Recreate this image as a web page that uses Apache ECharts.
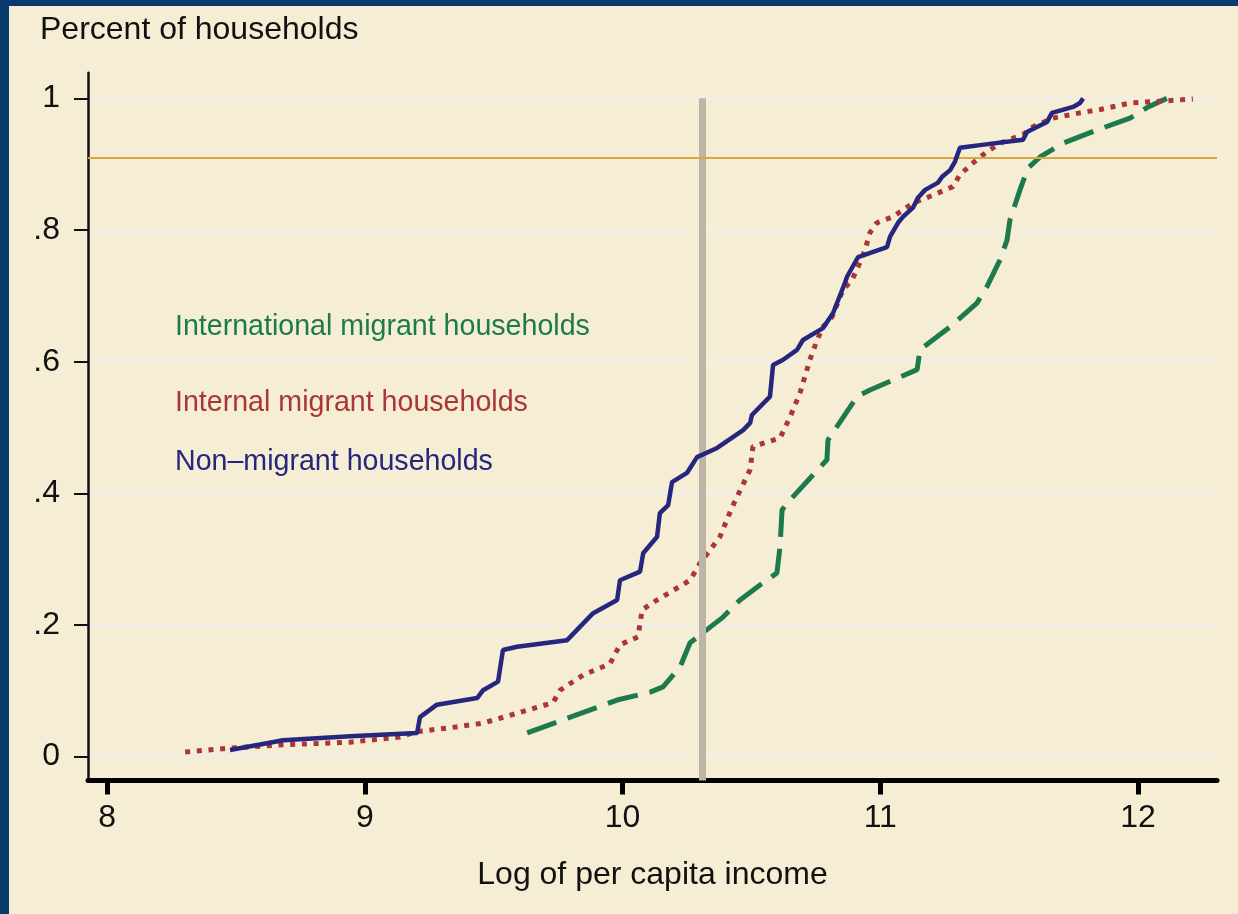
<!DOCTYPE html>
<html>
<head>
<meta charset="utf-8">
<script src="https://cdn.jsdelivr.net/npm/echarts@6/dist/echarts.min.js"></script>
<style>
  html, body { margin: 0; padding: 0; width: 1238px; height: 914px; background: #0b3a6f; overflow: hidden; }
  #chart { position: absolute; left: 9px; top: 6px; width: 1229px; height: 908px; background: #f5edd4; }
</style>
</head>
<body>
<div id="chart"></div>
<script>
// ---- Data ----
const xTicks = [8, 9, 10, 11, 12];
const xTickLabels = ['8', '9', '10', '11', '12'];
const yTicks = [0, 0.2, 0.4, 0.6, 0.8, 1];
const yTickLabels = ['0', '.2', '.4', '.6', '.8', '1'];
const xRange = [7.926, 12.3065];
const yRange = [-0.0362, 1.039];
const refIncome = 10.31;     // vertical grey reference line
const refShare = 0.911;      // horizontal gold reference line

const seriesNames = ['International migrant households', 'Internal migrant households', 'Non\u2013migrant households'];

const nonMigrant = [
  [8.477,0.010],[8.683,0.025],[8.943,0.031],[9.203,0.036],[9.214,0.060],[9.280,0.079],
  [9.436,0.089],[9.459,0.101],[9.517,0.114],[9.536,0.162],[9.591,0.167],[9.785,0.177],
  [9.886,0.218],[9.979,0.238],[9.990,0.268],[10.068,0.281],[10.080,0.309],[10.134,0.334],
  [10.145,0.370],[10.177,0.382],[10.192,0.417],[10.250,0.431],[10.289,0.455],[10.367,0.469],
  [10.468,0.496],[10.495,0.507],[10.502,0.519],[10.572,0.547],[10.584,0.595],[10.623,0.603],
  [10.677,0.618],[10.700,0.633],[10.778,0.651],[10.817,0.674],[10.863,0.720],[10.871,0.729],
  [10.914,0.759],[11.026,0.774],[11.038,0.790],[11.069,0.811],[11.088,0.820],[11.127,0.834],
  [11.146,0.849],[11.174,0.861],[11.224,0.872],[11.240,0.881],[11.271,0.891],[11.290,0.904],
  [11.309,0.925],[11.387,0.929],[11.554,0.937],[11.569,0.949],[11.647,0.964],[11.666,0.978],
  [11.748,0.987],[11.775,0.993],[11.787,1.000]
];

const internalMigrant = [
  [8.303,0.007],[8.477,0.013],[8.683,0.018],[8.943,0.022],[9.137,0.030],[9.203,0.038],
  [9.331,0.044],[9.459,0.051],[9.591,0.066],[9.730,0.082],[9.758,0.101],[9.847,0.124],
  [9.951,0.141],[9.990,0.170],[10.060,0.182],[10.076,0.223],[10.134,0.238],[10.262,0.268],
  [10.301,0.294],[10.378,0.334],[10.425,0.379],[10.495,0.436],[10.506,0.471],[10.611,0.484],
  [10.650,0.516],[10.689,0.553],[10.727,0.603],[10.755,0.633],[10.778,0.653],[10.813,0.668],
  [10.855,0.709],[10.890,0.724],[10.914,0.744],[10.941,0.770],[10.960,0.796],[10.987,0.811],
  [11.049,0.820],[11.127,0.841],[11.205,0.853],[11.282,0.866],[11.309,0.884],[11.360,0.902],
  [11.414,0.919],[11.465,0.932],[11.554,0.945],[11.593,0.957],[11.670,0.970],[11.775,0.978],
  [11.853,0.983],[11.969,0.993],[12.058,0.995],[12.213,0.999]
];

const internationalMigrant = [
  [9.630,0.036],[9.979,0.086],[10.107,0.098],[10.157,0.106],[10.223,0.136],[10.262,0.173],
  [10.390,0.212],[10.456,0.238],[10.545,0.264],[10.599,0.279],[10.611,0.319],[10.619,0.375],
  [10.650,0.390],[10.793,0.451],[10.797,0.481],[10.910,0.547],[10.960,0.557],[11.143,0.588],
  [11.154,0.618],[11.271,0.653],[11.375,0.689],[11.414,0.714],[11.465,0.755],[11.492,0.785],
  [11.503,0.815],[11.542,0.861],[11.573,0.894],[11.620,0.911],[11.709,0.932],[11.841,0.952],
  [11.969,0.970],[12.035,0.986],[12.112,1.000]
];

// ---- Styles ----
const FONT = '"Liberation Sans", Arial, Helvetica, sans-serif';
const colors = { intl: '#1c7a4c', internal: '#ab3636', non: '#26267f' };

const chart = echarts.init(document.getElementById('chart'), null, { renderer: 'canvas' });

chart.setOption({
  animation: false,
  backgroundColor: '#f5edd4',
  title: {
    text: 'Percent of households',
    left: 31, top: 8, padding: 0,
    textStyle: { fontFamily: FONT, fontSize: 32, fontWeight: 'normal', color: '#111' }
  },
  grid: { left: 79, right: 21, top: 66.7, bottom: 133.5, containLabel: false },
  xAxis: {
    type: 'value',
    min: xRange[0], max: xRange[1],
    name: 'Log of per capita income',
    nameLocation: 'middle', nameGap: 79,
    nameTextStyle: { fontFamily: FONT, fontSize: 32, color: '#111' },
    axisLine: { show: true, onZero: false, lineStyle: { color: '#000', width: 5 } },
    axisTick: { show: true, customValues: xTicks, length: 14, lineStyle: { color: '#000', width: 5 } },
    axisLabel: {
      customValues: xTicks, margin: 22,
      fontFamily: FONT, fontSize: 32, color: '#111',
      formatter: v => xTickLabels[xTicks.indexOf(Math.round(v))] ?? ''
    },
    splitLine: { show: false }
  },
  yAxis: {
    type: 'value',
    min: yRange[0], max: yRange[1],
    axisLine: { show: true, onZero: false, lineStyle: { color: '#111', width: 2.5 } },
    axisTick: { show: true, customValues: yTicks, length: 14, lineStyle: { color: '#111', width: 2 } },
    axisLabel: {
      customValues: yTicks, margin: 28,
      fontFamily: FONT, fontSize: 32, color: '#111',
      formatter: v => {
        const i = yTicks.findIndex(t => Math.abs(t - v) < 1e-6);
        return i >= 0 ? yTickLabels[i] : '';
      }
    },
    splitLine: { show: true, lineStyle: { color: '#f1eee6', width: 3 } }
  },
  graphic: [
    { type: 'text', left: 166, top: 307, style: { text: seriesNames[0], fill: colors.intl, font: '28.6px ' + FONT } },
    { type: 'text', left: 166, top: 383, style: { text: seriesNames[1], fill: colors.internal, font: '28.6px ' + FONT } },
    { type: 'text', left: 166, top: 442, style: { text: seriesNames[2], fill: colors.non, font: '28.6px ' + FONT } }
  ],
  series: [
    {
      name: 'reference lines', type: 'line', data: [], z: 1, silent: true,
      markLine: {
        symbol: 'none', silent: true, animation: false, label: { show: false },
        data: [
          [{ coord: [refIncome, yRange[0]], lineStyle: { color: '#bcb5a8', width: 7, type: 'solid' } },
           { coord: [refIncome, 1] }],
          { yAxis: refShare, lineStyle: { color: '#d6a83e', width: 2, type: 'solid' } }
        ]
      }
    },
    {
      name: seriesNames[0], type: 'line', data: internationalMigrant, z: 3,
      symbol: 'none', smooth: false,
      lineStyle: { color: colors.intl, width: 5, type: [31, 12], cap: 'butt' }
    },
    {
      name: seriesNames[1], type: 'line', data: internalMigrant, z: 4,
      symbol: 'none', smooth: false,
      lineStyle: { color: colors.internal, width: 5, type: [5, 6.7], cap: 'butt' }
    },
    {
      name: seriesNames[2], type: 'line', data: nonMigrant, z: 5,
      symbol: 'none', smooth: false,
      lineStyle: { color: colors.non, width: 4.5, type: 'solid' }
    }
  ]
});
</script>
</body>
</html>
